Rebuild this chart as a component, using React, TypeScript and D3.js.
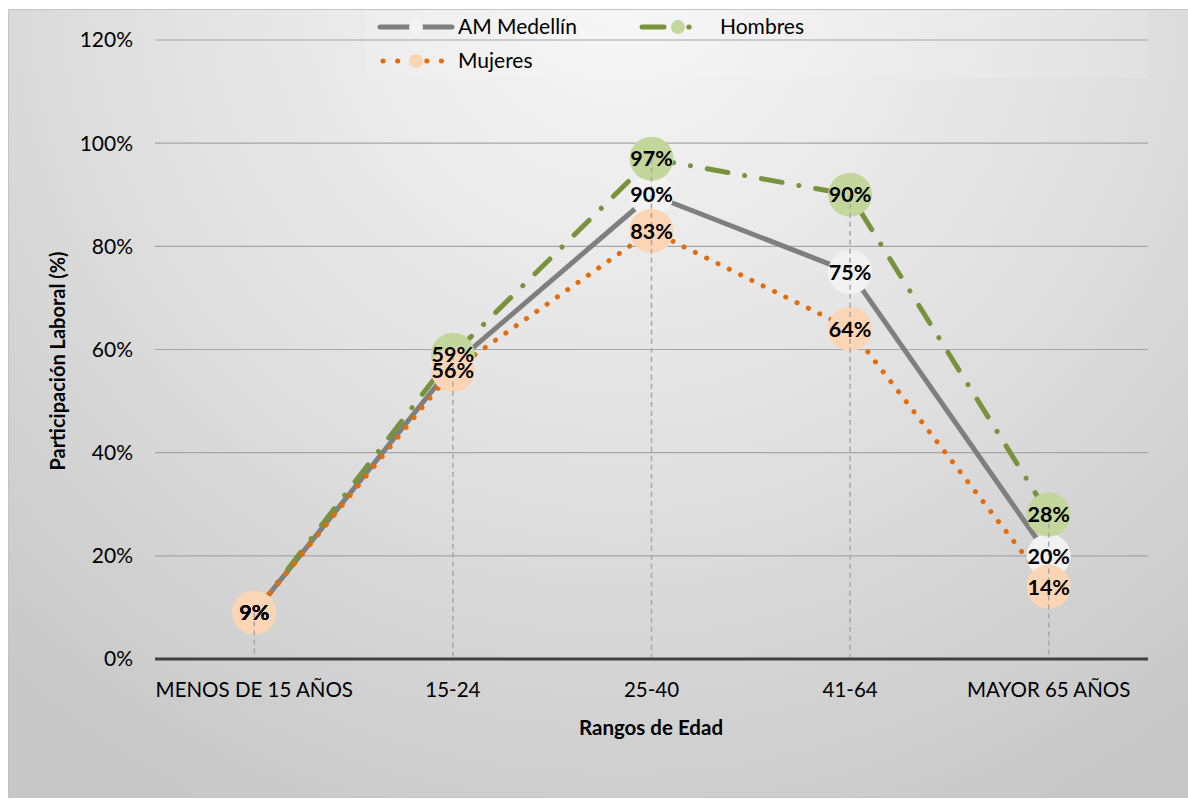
import React from "react";
import * as d3 from "d3";

const categories = ["MENOS DE 15 AÑOS", "15-24", "25-40", "41-64", "MAYOR 65 AÑOS"];
const amMedellin = [0.09, 0.57, 0.9, 0.75, 0.2];
const hombres = [0.09, 0.59, 0.97, 0.9, 0.28];
const mujeres = [0.09, 0.56, 0.83, 0.64, 0.14];
const amLabelShown = [true, false, true, true, true];
const yTicks = [0, 0.2, 0.4, 0.6, 0.8, 1.0, 1.2];

const W = 1188;
const H = 800;
const plot = { left: 155, right: 1148, top: 40, bottom: 659 };
const FONT = "Lato, 'Open Sans', 'DejaVu Sans', sans-serif";

type Series = {
  name: string;
  values: number[];
  labels: boolean[];
  stroke: string;
  dash: string | null;
  cap: string;
  marker: string;
};

const series: Series[] = [
  { name: "AM Medellín", values: amMedellin, labels: amLabelShown, stroke: "#7f7f7f", dash: null, cap: "butt", marker: "#f2f2f2" },
  { name: "Hombres", values: hombres, labels: hombres.map(() => true), stroke: "#77933c", dash: "21 17 0.1 17", cap: "round", marker: "#c3d69b" },
  { name: "Mujeres", values: mujeres, labels: mujeres.map(() => true), stroke: "#e46c0a", dash: "0.1 12.5", cap: "round", marker: "#fcd5b5" },
];

export default function App() {
  const x = d3.scalePoint<string>().domain(categories).range([plot.left, plot.right]).padding(0.5);
  const y = d3.scaleLinear().domain([0, 1.2]).range([plot.bottom, plot.top]);
  const fmt = d3.format(".0%");
  const R = 22;

  const line = d3
    .line<number>()
    .x((_, i) => x(categories[i]) as number)
    .y((v) => y(v));

  const maxPerCat = categories.map((_, i) => d3.max(series, (s) => s.values[i]) as number);

  return (
    <div style={{ position: "absolute", left: 0, top: 0 }}>
      <svg width={W} height={H} style={{ display: "block" }} fontFamily={FONT}>
        <defs>
          <radialGradient id="bg" gradientUnits="userSpaceOnUse" cx={620} cy={-20} r={920}>
            <stop offset="0" stopColor="#f7f7f7" />
            <stop offset="0.5" stopColor="#e2e2e2" />
            <stop offset="1" stopColor="#c8c8c8" />
          </radialGradient>
        </defs>
        <rect x={0} y={0} width={W} height={H} fill="#ffffff" />
        <rect x={8.5} y={9.5} width={W - 8} height={H - 12} fill="url(#bg)" stroke="#c4c4c4" strokeWidth={1} />
        {/* legend backdrop */}
        <rect x={365} y={11} width={783} height={67} fill="#ffffff" opacity={0.12} />

        {/* gridlines */}
        {yTicks.filter((t) => t > 0).map((t) => (
          <line key={t} x1={plot.left} x2={plot.right} y1={y(t)} y2={y(t)} stroke="#a6a6a6" strokeWidth={1.2} />
        ))}
        {/* y tick labels */}
        {yTicks.map((t) => (
          <text key={t} x={133} y={y(t)} dy="0.35em" textAnchor="end" fontSize={21} fill="#000">
            {fmt(t)}
          </text>
        ))}
        {/* axis line */}
        <line x1={plot.left} x2={plot.right} y1={y(0)} y2={y(0)} stroke="#404040" strokeWidth={3} />
        {/* x tick labels */}
        {categories.map((c) => (
          <text key={c} x={x(c) as number} y={690} dy="0.35em" textAnchor="middle" fontSize={20.5} fill="#000">
            {c}
          </text>
        ))}
        {/* axis titles */}
        <text x={651} y={728} dy="0.35em" textAnchor="middle" fontSize={20.5} fontWeight="bold" fill="#000">
          Rangos de Edad
        </text>
        <text
          transform={`translate(58,${361}) rotate(-90)`}
          dy="0.35em"
          textAnchor="middle"
          fontSize={20}
          fontWeight="bold"
          fill="#000"
        >
          Participación Laboral (%)
        </text>

        {/* lines */}
        {series.map((s) => (
          <path
            key={s.name}
            d={line(s.values) as string}
            fill="none"
            stroke={s.stroke}
            strokeWidth={5}
            strokeDasharray={s.dash ?? undefined}
            strokeLinecap={s.cap as any}
            strokeLinejoin="round"
          />
        ))}
        {/* markers */}
        {series.map((s) =>
          s.values.map((v, i) => (
            <circle key={s.name + i} cx={x(categories[i]) as number} cy={y(v)} r={R} fill={s.marker} />
          ))
        )}
        {/* drop lines */}
        {categories.map((c, i) => (
          <line
            key={"drop" + c}
            x1={x(c) as number}
            x2={x(c) as number}
            y1={y(maxPerCat[i])}
            y2={y(0) - 1.5}
            stroke="#a6a6a6"
            strokeWidth={1.5}
            strokeDasharray="5 4"
          />
        ))}
        {/* data labels */}
        {series.map((s) =>
          s.values.map((v, i) =>
            s.labels[i] ? (
              <text
                key={"lab" + s.name + i}
                x={x(categories[i]) as number}
                y={y(v)}
                dy="0.36em"
                textAnchor="middle"
                fontSize={21.5}
                fontWeight="bold"
                fill="#000"
              >
                {fmt(v)}
              </text>
            ) : null
          )
        )}

        {/* legend */}
        <g>
          <line x1={380} x2={452} y1={27} y2={27} stroke="#7f7f7f" strokeWidth={5} strokeLinecap="round" />
          <circle cx={416} cy={27} r={7} fill="#f2f2f2" />
          <text x={458} y={27} dy="0.35em" fontSize={21} fill="#000">AM Medellín</text>

          <line x1={642} x2={664} y1={27} y2={27} stroke="#77933c" strokeWidth={5} strokeLinecap="round" />
          <circle cx={689} cy={27} r={2.6} fill="#77933c" />
          <circle cx={678} cy={27} r={7} fill="#c3d69b" />
          <text x={720} y={27} dy="0.35em" fontSize={21} fill="#000">Hombres</text>

          <line x1={383} x2={452} y1={61} y2={61} stroke="#e46c0a" strokeWidth={5} strokeDasharray="0.1 14.5" strokeLinecap="round" />
          <circle cx={416} cy={61} r={7} fill="#fcd5b5" />
          <text x={458} y={61} dy="0.35em" fontSize={21} fill="#000">Mujeres</text>
        </g>
      </svg>
    </div>
  );
}
